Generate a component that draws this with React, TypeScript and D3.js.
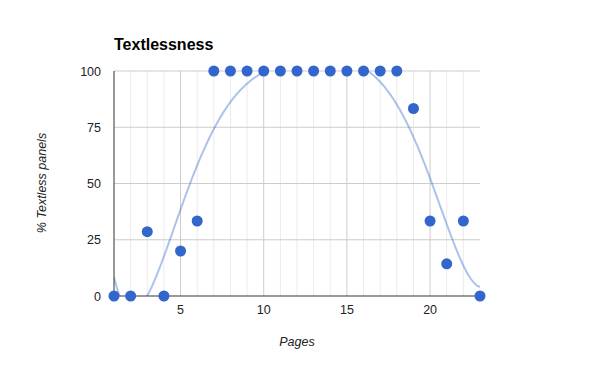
import React from "react";
import * as d3 from "d3";

const pages = [1, 2, 3, 4, 5, 6, 7, 8, 9, 10, 11, 12, 13, 14, 15, 16, 17, 18, 19, 20, 21, 22, 23];
const textless = [0, 0, 28.57, 0, 20, 33.33, 100, 100, 100, 100, 100, 100, 100, 100, 100, 100, 100, 100, 83.33, 33.33, 14.29, 33.33, 0];
const yTicks = [0, 25, 50, 75, 100];
const xTicks = [5, 10, 15, 20];
const trendDegree = 6;

function polyFit(xs: number[], ys: number[], deg: number) {
  const n = deg + 1;
  const A: number[][] = [];
  for (let i = 0; i < n; i++) {
    A.push(new Array(n + 1).fill(0));
  }
  const m = 12;
  const s = 11;
  for (let k = 0; k < xs.length; k++) {
    const t = (xs[k] - m) / s;
    for (let i = 0; i < n; i++) {
      for (let j = 0; j < n; j++) A[i][j] += Math.pow(t, i + j);
      A[i][n] += ys[k] * Math.pow(t, i);
    }
  }
  for (let i = 0; i < n; i++) {
    let p = i;
    for (let r = i + 1; r < n; r++) if (Math.abs(A[r][i]) > Math.abs(A[p][i])) p = r;
    [A[i], A[p]] = [A[p], A[i]];
    for (let r = 0; r < n; r++) {
      if (r === i) continue;
      const f = A[r][i] / A[i][i];
      for (let c = i; c <= n; c++) A[r][c] -= f * A[i][c];
    }
  }
  const coef = A.map((row, i) => row[n] / row[i]);
  return (x: number) => {
    const t = (x - m) / s;
    let v = 0;
    for (let i = n - 1; i >= 0; i--) v = v * t + coef[i];
    return v;
  };
}

export default function App() {
  const W = 593, H = 367;
  const left = 114, right = 480, top = 71, bottom = 296;
  const x = d3.scaleLinear().domain([1, 23]).range([left, right]);
  const y = d3.scaleLinear().domain([0, 100]).range([bottom, top]);
  const f = polyFit(pages, textless, trendDegree);
  const samples = d3.range(1, 23.0001, 0.05);
  const line = d3.line<number>().x((d) => x(d)).y((d) => y(f(d)));
  const minor = d3.range(2, 23).filter((v) => !xTicks.includes(v));
  const font = "Arial, 'Liberation Sans', sans-serif";
  return (
    <svg width={W} height={H} style={{ position: "absolute", left: 0, top: 0 }} fontFamily={font}>
      <rect width={W} height={H} fill="#fff" />
      <defs>
        <clipPath id="plot">
          <rect x={left} y={top} width={right - left} height={bottom - top} />
        </clipPath>
      </defs>
      <text x={left} y={50} fontSize={16} fontWeight="bold" fill="#000">Textlessness</text>
      {minor.map((v) => (
        <line key={"m" + v} x1={x(v)} x2={x(v)} y1={top} y2={bottom} stroke="#ebebeb" />
      ))}
      {xTicks.map((v) => (
        <line key={"M" + v} x1={x(v)} x2={x(v)} y1={top} y2={bottom} stroke="#cccccc" />
      ))}
      {yTicks.filter((v) => v > 0).map((v) => (
        <line key={"y" + v} x1={left} x2={right} y1={y(v)} y2={y(v)} stroke="#cccccc" />
      ))}
      <path d={line(samples) || ""} fill="none" stroke="#3366cc" strokeOpacity={0.4} strokeWidth={2} clipPath="url(#plot)" />
      <line x1={left} x2={right} y1={bottom} y2={bottom} stroke="#333" />
      <line x1={left} x2={left} y1={top} y2={bottom} stroke="#333" />
      {pages.map((p, i) => (
        <circle key={p} cx={x(p)} cy={y(textless[i])} r={5.5} fill="#3366cc" />
      ))}
      {yTicks.map((v) => (
        <text key={"yt" + v} x={101} y={y(v) + 4.5} fontSize={12.5} textAnchor="end" fill="#222">{v}</text>
      ))}
      {xTicks.map((v) => (
        <text key={"xt" + v} x={x(v)} y={314} fontSize={12.5} textAnchor="middle" fill="#222">{v}</text>
      ))}
      <text x={297} y={346} fontSize={12.5} fontStyle="italic" textAnchor="middle" fill="#222">Pages</text>
      <text transform="translate(46,183) rotate(-90)" fontSize={12.5} fontStyle="italic" textAnchor="middle" fill="#222">% Textless panels</text>
    </svg>
  );
}
